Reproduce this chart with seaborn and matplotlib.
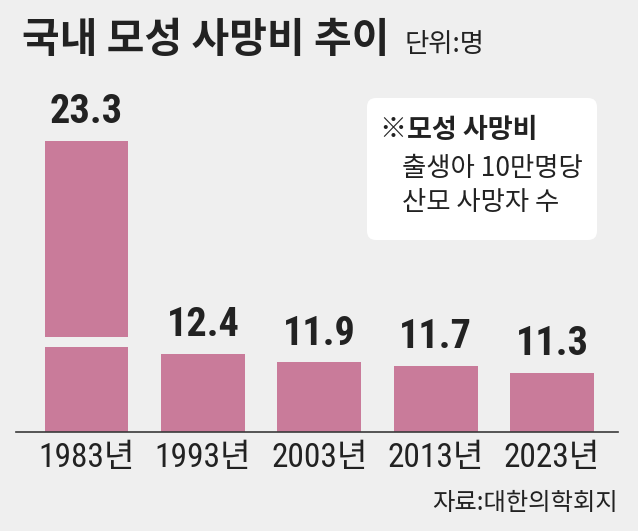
import matplotlib
matplotlib.use('Agg')
import matplotlib.pyplot as plt
import seaborn as sns
from matplotlib import font_manager
from matplotlib.patches import FancyBboxPatch
from matplotlib.transforms import IdentityTransform

# data
years = ['1983년', '1993년', '2003년', '2013년', '2023년']
values = [23.3, 12.4, 11.9, 11.7, 11.3]

title = '국내 모성 사망비 추이'
unit = '단위:명'
note_head = '※모성 사망비'
note_lines = ['출생아 10만명당', '산모 사망자 수']
source = '자료:대한의학회지'

BG = '#efefef'
BAR = '#c97b9a'
INK = '#222222'

sns.set_theme(style='white')
KR = 'Noto Sans CJK KR'
installed = {f.name for f in font_manager.fontManager.ttflist}
NARROW = next((f for f in ['Liberation Sans Narrow', 'Roboto Condensed', 'Liberation Sans']
               if f in installed), 'DejaVu Sans')
plt.rcParams['font.family'] = [KR, 'DejaVu Sans']
plt.rcParams['text.color'] = INK

W, H = 638, 531


def fx(x):
    return x / W


def fy(y):
    return 1 - y / H


fig = plt.figure(figsize=(W / 100, H / 100), dpi=100, facecolor=BG)

# broken axis: lower part and upper part (only the 1983 bar reaches it)
left, right = 16, 618
ax_low = fig.add_axes([fx(left), fy(432), (right - left) / W, (432 - 347) / H])
ax_top = fig.add_axes([fx(left), fy(337), (right - left) / W, (337 - 60) / H])

low_lim = (7.8, 12.8)
top_lim = (13.0, 27.56)

for ax, lim in [(ax_low, low_lim), (ax_top, top_lim)]:
    sns.barplot(x=years, y=values, color=BAR, width=0.72, saturation=1,
                linewidth=0, ax=ax)
    ax.set_ylim(*lim)
    ax.set_xlim(-0.606, 4.566)
    ax.set_facecolor('none')
    ax.set_yticks([])
    ax.set_xlabel('')
    ax.set_ylabel('')
    for s in ax.spines.values():
        s.set_visible(False)
    labels = [f'{v}' if lim[0] < v <= lim[1] else '' for v in values]
    ax.bar_label(ax.containers[0], labels=labels, padding=7, fontsize=29,
                 fontweight='bold', family=[NARROW, KR], color=INK)

ax_top.set_xticks([])
ax_low.spines['bottom'].set_visible(True)
ax_low.spines['bottom'].set_color('#3a3a3a')
ax_low.spines['bottom'].set_linewidth(1.2)
ax_low.set_xticks(range(len(years)))
ax_low.set_xticklabels(years, fontsize=24, family=[NARROW, KR], color=INK)
ax_low.tick_params(axis='x', length=0, pad=7)

# title and unit
fig.text(fx(22), fy(40), title, fontsize=29.5, fontweight='bold', va='center')
fig.text(fx(405), fy(44), unit, fontsize=19, va='center')

# note box
box = FancyBboxPatch((367, H - 240), 230, 142,
                     boxstyle='round,pad=0,rounding_size=9',
                     transform=IdentityTransform(), facecolor='white',
                     edgecolor='none')
fig.add_artist(box)
fig.text(fx(380), fy(130), note_head, fontsize=19.5, fontweight='bold', va='center')
fig.text(fx(402), fy(168), note_lines[0], fontsize=19, va='center')
fig.text(fx(402), fy(203), note_lines[1], fontsize=19, va='center')

# source
fig.text(fx(618), fy(503), source, fontsize=17.5, ha='right', va='center')

fig.savefig('out.png', dpi=100, facecolor=BG)
